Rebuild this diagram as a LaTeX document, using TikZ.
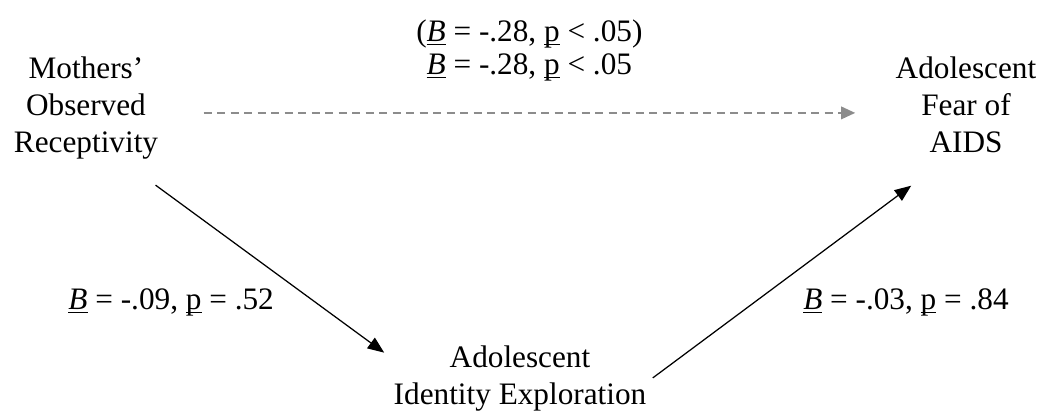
\documentclass[tikz,border=0pt]{standalone}
\usepackage{fontspec}
\setmainfont{Liberation Serif}
\usepackage{tikz}
\usetikzlibrary{arrows.meta, positioning}
\definecolor{pathgray}{HTML}{8C8C8C}
\newcommand{\statB}{\underbar{\textit{B}}}
\newcommand{\statp}{\underbar{p}}

\begin{document}
\begin{tikzpicture}[
    x=0.4pt, y=-0.4pt,
    var/.style={align=center, inner sep=0pt, font=\fontsize{12.5}{14.8}\selectfont},
    lbl/.style={align=center, inner sep=0pt, text=black, font=\fontsize{12.5}{13.2}\selectfont},
    arr/.style={-{Triangle[length=6.6pt, width=5.2pt]}, line width=0.5pt, color=black},
    dasharr/.style={-{Triangle[length=5.6pt, width=5pt]}, line width=0.7pt, color=pathgray, dash pattern=on 3.2pt off 2.2pt}
]
    \useasboundingbox (0,0) rectangle (1041,411);

    \node[var, anchor=north] (mor) at (86,56.7) {Mothers’\\Observed\\Receptivity};
    \node[var, anchor=north] (fear) at (966,56.7) {Adolescent\\Fear of\\AIDS};
    \node[var, anchor=north] (idx) at (520,345.7) {Adolescent\\Identity Exploration};

    % direct path
    \coordinate (dstart) at ([shift={(45,4.5)}]mor.east);
    \draw[dasharr] (dstart) -- node[midway, above=13.2pt, lbl] {(\statB{} = -.28, \statp{} < .05)\\\statB{} = -.28, \statp{} < .05} ([shift={(-40,0)}]fear.west |- dstart);

    % indirect path
    \draw[arr] ([shift={(-3,25)}]mor.south east) -- node[pos=.52, below left=6.2pt and 0pt, lbl] {\statB{} = -.09, \statp{} = .52} ([shift={(-9,7)}]idx.north west);
    \draw[arr] ([shift={(6,-1)}]idx.east) -- node[pos=.58, below right=8.6pt and 0pt, lbl] {\statB{} = -.03, \statp{} = .84} ([shift={(16,32)}]fear.south west);
\end{tikzpicture}
\end{document}
